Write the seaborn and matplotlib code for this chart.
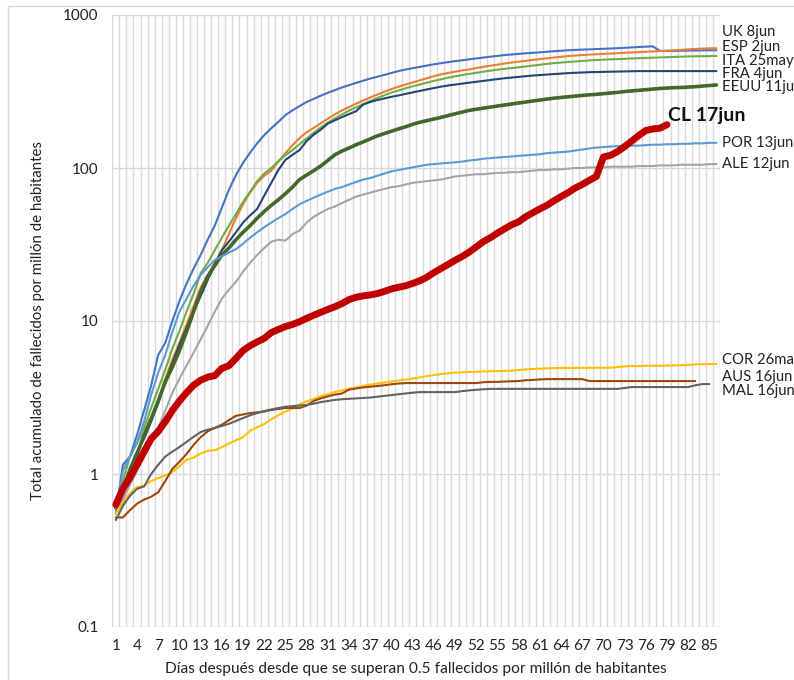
import numpy as np
import pandas as pd
import matplotlib
matplotlib.use("Agg")
import matplotlib.pyplot as plt
import matplotlib.ticker as mticker
import matplotlib.transforms as mtransforms
from matplotlib.lines import Line2D
import seaborn as sns

# cumulative deaths per million, one value per day since passing 0.5
uk = [0.55, 1.15, 1.3, 1.8, 2.6, 3.8, 6.0, 7.2, 10.0, 13.5,
      17.5, 22, 27, 34, 42, 55, 72, 90, 108, 126,
      145, 164, 182, 200, 222, 238, 254, 270, 283, 297,
      310, 323, 336, 348, 360, 372, 384, 395, 406, 418,
      430, 440, 449, 458, 467, 476, 484, 492, 499, 506,
      513, 520, 527, 534, 540, 547, 552, 557, 562, 566,
      570, 575, 580, 584, 588, 591, 594, 596, 599, 601,
      604, 607, 610, 614, 618, 621, 624, 582, 582, 583,
      584, 585, 586, 587, 588, 588]
esp = [0.6, 0.85, 1.05, 1.4, 1.75, 2.3, 3.0, 4.2, 5.6, 7.2,
       9.5, 12.5, 16.5, 20, 24, 29, 37, 47, 58, 69,
       80, 89, 96, 110, 125, 141, 157, 171, 183, 196,
       210, 224, 238, 250, 263, 276, 289, 302, 315, 328,
       340, 351, 362, 374, 386, 398, 409, 418, 426, 434,
       441, 450, 458, 466, 474, 482, 489, 495, 502, 509,
       515, 521, 527, 533, 539, 543, 547, 551, 554, 557,
       560, 563, 566, 569, 572, 575, 578, 581, 584, 588,
       592, 596, 600, 603, 605, 607]
ita = [0.6, 0.9, 1.3, 1.6, 2.0, 2.7, 3.6, 4.8, 6.6, 8.6,
       11.5, 15.0, 20.5, 24, 29, 35, 42, 50, 60, 70,
       82, 92, 100, 111, 121, 131, 143, 156, 170, 184,
       198, 211, 224, 237, 249, 261, 274, 287, 299, 311,
       321, 332, 342, 351, 361, 371, 380, 389, 397, 405,
       412, 419, 426, 433, 439, 445, 450, 455, 461, 467,
       473, 479, 485, 489, 493, 497, 501, 505, 508, 511,
       513, 515, 517, 520, 522, 524, 526, 528, 530, 532,
       534, 536, 537, 538, 539, 540]
fra = [0.6, 0.8, 1.1, 1.4, 1.7, 2.2, 2.9, 4.0, 5.3, 7.0,
       9.0, 11.5, 14.5, 18.5, 23.5, 29, 33, 38, 44, 49,
       54, 66, 80, 97, 113, 122, 131, 150, 165, 178,
       195, 205, 215, 225, 235, 260, 270, 278, 285, 292,
       298, 305, 312, 319, 326, 333, 340, 346, 351, 356,
       361, 366, 371, 376, 381, 386, 390, 394, 398, 402,
       405, 408, 411, 414, 417, 419, 421, 423, 424, 425,
       426, 427, 428, 429, 430, 430, 430, 430, 430, 430,
       430, 430, 430, 430, 430, 430]
eeuu = [0.6, 0.8, 1.05, 1.35, 1.8, 2.3, 3.0, 4.0, 5.0, 6.4,
        8.5, 11.5, 15.5, 19.5, 23, 27, 30, 34, 38, 42,
        47, 52, 57, 62, 68, 75, 84, 90, 96, 103,
        112, 122, 129, 135, 142, 148, 155, 162, 168, 174,
        180, 186, 193, 199, 204, 209, 214, 220, 226, 232,
        238, 242, 246, 250, 254, 258, 262, 266, 270, 274,
        278, 282, 286, 289, 292, 295, 298, 301, 303, 306,
        309, 312, 316, 319, 322, 325, 328, 331, 333, 335,
        336, 338, 340, 343, 346, 349]
por = [0.6, 1.05, 1.3, 1.6, 2.2, 3.3, 4.6, 6.0, 8.5, 11.5,
       14, 17, 20, 22.5, 25, 26.5, 28, 29.5, 32, 35,
       38, 41, 44, 47, 50, 54, 58, 61, 64, 67,
       70, 73, 75, 78, 81, 84, 86, 89, 92, 95,
       97, 99, 101, 103, 105, 106, 107, 108, 109, 110,
       112, 113, 115, 116, 117, 118, 119, 120, 121, 122,
       123, 125, 126, 127, 128, 130, 132, 134, 136, 137,
       138, 139, 139, 140, 140, 141, 142, 142, 143, 143,
       144, 144, 145, 145, 146, 146]
ale = [0.55, 0.68, 0.85, 1.05, 1.3, 1.6, 2.0, 2.6, 3.4, 4.2,
       5.1, 6.2, 7.6, 9.3, 11.5, 14, 16, 18, 21, 24,
       27, 30, 33, 34, 33.5, 37, 39, 44, 48, 51,
       54, 56, 59, 62, 65, 67, 69, 71, 73, 75,
       76, 78, 80, 81, 82, 83, 84, 86, 88, 89,
       90, 91, 91, 92, 93, 93, 94, 94, 95, 96,
       97, 97, 98, 98, 99, 100, 100, 101, 101, 101,
       102, 102, 102, 102, 103, 103, 103, 104, 104, 104,
       105, 105, 105, 105, 106, 106]
cor = [0.55, 0.65, 0.75, 0.82, 0.84, 0.9, 0.94, 0.98, 1.03, 1.12,
       1.24, 1.28, 1.36, 1.42, 1.43, 1.5, 1.58, 1.66, 1.74, 1.92,
       2.02, 2.12, 2.28, 2.42, 2.56, 2.68, 2.85, 2.98, 3.1, 3.22,
       3.32, 3.43, 3.52, 3.6, 3.68, 3.76, 3.84, 3.9, 3.96, 4.02,
       4.08, 4.14, 4.2, 4.28, 4.36, 4.43, 4.5, 4.55, 4.6, 4.62,
       4.64, 4.66, 4.68, 4.7, 4.7, 4.72, 4.74, 4.78, 4.82, 4.86,
       4.88, 4.9, 4.92, 4.93, 4.93, 4.94, 4.94, 4.94, 4.95, 4.95,
       4.95, 5.0, 5.05, 5.08, 5.08, 5.1, 5.1, 5.1, 5.12, 5.12,
       5.14, 5.16, 5.2, 5.22, 5.23, 5.23]
aus = [0.52, 0.52, 0.58, 0.64, 0.68, 0.71, 0.76, 0.9, 1.08, 1.2,
       1.35, 1.55, 1.74, 1.9, 2.0, 2.1, 2.25, 2.4, 2.45, 2.5,
       2.53, 2.56, 2.62, 2.66, 2.7, 2.7, 2.7, 2.8, 3.0, 3.12,
       3.22, 3.3, 3.36, 3.56, 3.62, 3.68, 3.72, 3.76, 3.8, 3.86,
       3.9, 3.93, 3.93, 3.93, 3.93, 3.93, 3.93, 3.93, 3.93, 3.93,
       3.93, 3.93, 3.98, 4.0, 4.0, 4.02, 4.04, 4.05, 4.1, 4.12,
       4.15, 4.17, 4.17, 4.17, 4.17, 4.17, 4.17, 4.05, 4.05, 4.05,
       4.05, 4.05, 4.05, 4.05, 4.05, 4.05, 4.05, 4.05, 4.05, 4.05,
       4.05, 4.05, 4.05]
mal = [0.5, 0.62, 0.72, 0.8, 0.83, 1.0, 1.15, 1.3, 1.4, 1.5,
       1.62, 1.75, 1.88, 1.95, 2.0, 2.06, 2.13, 2.22, 2.32, 2.42,
       2.5, 2.58, 2.64, 2.7, 2.75, 2.78, 2.8, 2.83, 2.88, 2.95,
       3.0, 3.05, 3.08, 3.1, 3.12, 3.14, 3.16, 3.2, 3.24, 3.28,
       3.32, 3.36, 3.4, 3.43, 3.43, 3.43, 3.43, 3.43, 3.43, 3.48,
       3.52, 3.55, 3.58, 3.6, 3.6, 3.6, 3.6, 3.6, 3.6, 3.6,
       3.6, 3.6, 3.6, 3.6, 3.6, 3.6, 3.6, 3.6, 3.6, 3.6,
       3.6, 3.6, 3.65, 3.7, 3.7, 3.7, 3.7, 3.7, 3.7, 3.7,
       3.7, 3.7, 3.8, 3.87, 3.87]
cl = [0.63, 0.8, 0.95, 1.15, 1.4, 1.7, 1.9, 2.2, 2.6, 3.0,
      3.4, 3.8, 4.1, 4.3, 4.4, 4.9, 5.1, 5.7, 6.4, 6.9,
      7.3, 7.7, 8.4, 8.8, 9.2, 9.5, 9.9, 10.4, 10.9, 11.4,
      11.9, 12.4, 13.0, 13.8, 14.3, 14.6, 14.8, 15.1, 15.6, 16.2,
      16.6, 17.0, 17.6, 18.3, 19.3, 20.7, 22.0, 23.4, 24.9, 26.4,
      28.2, 30.5, 33.0, 35.0, 37.5, 40.0, 42.5, 44.5, 48, 51,
      54, 57, 61, 65, 69, 74, 78, 83, 88, 118,
      121, 128, 138, 150, 163, 176, 180, 182, 192]

countries = ["UK", "ESP", "ITA", "FRA", "EEUU", "POR", "ALE", "COR", "AUS", "MAL", "CL"]
series = [uk, esp, ita, fra, eeuu, por, ale, cor, aus, mal, cl]
end_labels = ["UK 8jun", "ESP 2jun", "ITA 25may", "FRA 4jun", "EEUU 11jun", "POR 13jun",
              "ALE 12jun", "COR 26may", "AUS 16jun", "MAL 16jun", "CL 17jun"]

colors = ["#4472C4", "#ED7D31", "#70AD47", "#264478", "#43682B", "#5B9BD5",
          "#A5A5A5", "#FFC000", "#9E480E", "#636363", "#C00000"]
widths = [1.5, 1.5, 1.5, 1.5, 2.6, 1.5, 1.5, 1.5, 1.5, 1.5, 5.0]
# label heights (data units) where the end-of-line texts sit
label_y = [774, 618, 500, 411, 338, 146, 106, 5.56, 4.3, 3.49, 222]

rows = []
for name, vals in zip(countries, series):
    for i, v in enumerate(vals):
        rows.append((name, i + 1, v))
df = pd.DataFrame(rows, columns=["pais", "dia", "valor"])

sns.set_style("white")
plt.rcParams["font.family"] = ["Lato", "DejaVu Sans"]

fig = plt.figure(figsize=(7.94, 6.8), dpi=100)
ax = fig.add_axes([112.3 / 794, 53 / 680, 607.7 / 794, 612 / 680])

for name, col, lw in zip(countries, colors, widths):
    sns.lineplot(data=df[df.pais == name], x="dia", y="valor", color=col,
                 linewidth=lw, ax=ax, legend=False, solid_capstyle="round")

ax.set_yscale("log")
ax.set_ylim(0.1, 1000)
ax.set_xlim(0.5, 86.5)
ax.yaxis.set_major_locator(mticker.FixedLocator([0.1, 1, 10, 100, 1000]))
ax.yaxis.set_minor_locator(mticker.NullLocator())
ax.yaxis.set_major_formatter(mticker.FixedFormatter(["0.1", "1", "10", "100", "1000"]))
ax.set_xticks(np.arange(1, 86, 3))
ax.set_xticks(np.arange(0.5, 87, 1), minor=True)

ax.grid(False)
ax.yaxis.grid(True, which="major", color="#D9D9D9", linewidth=1.0)
ax.xaxis.grid(True, which="minor", color="#D9D9D9", linewidth=1.0)
ax.set_axisbelow(True)
for s in ax.spines.values():
    s.set_visible(False)

ax.tick_params(axis="both", which="both", length=0, labelsize=11, colors="#222222")
ax.tick_params(axis="x", pad=9)
ax.tick_params(axis="y", pad=10)

ax.set_xlabel("Días después desde que se superan 0.5 fallecidos por millón de habitantes",
              fontsize=11.2, color="#222222")
ax.set_ylabel("Total acumulado de fallecidos por millón de habitantes",
              fontsize=10.8, color="#222222")
ax.xaxis.set_label_coords(0.5, -0.057)
ax.yaxis.set_label_coords(-0.111, 0.5)

trans = mtransforms.blended_transform_factory(ax.transAxes, ax.transData)
for name, txt, ly in zip(countries, end_labels, label_y):
    if name == "CL":
        ax.text(79.2, ly, txt, fontsize=14, fontweight="bold", color="#111111",
                ha="left", va="center", clip_on=False)
    else:
        ax.text(1.003, ly, txt, transform=trans, fontsize=10.7, color="#222222",
                ha="left", va="center", clip_on=False)

# chart area border (only the top and left edges fall inside the picture)
fig.add_artist(Line2D([8 / 794, 1.0], [1 - 6 / 680, 1 - 6 / 680], color="#D9D9D9", linewidth=1.0))
fig.add_artist(Line2D([8 / 794, 8 / 794], [0.0, 1 - 6 / 680], color="#D9D9D9", linewidth=1.0))

fig.savefig("out.png", dpi=100)
